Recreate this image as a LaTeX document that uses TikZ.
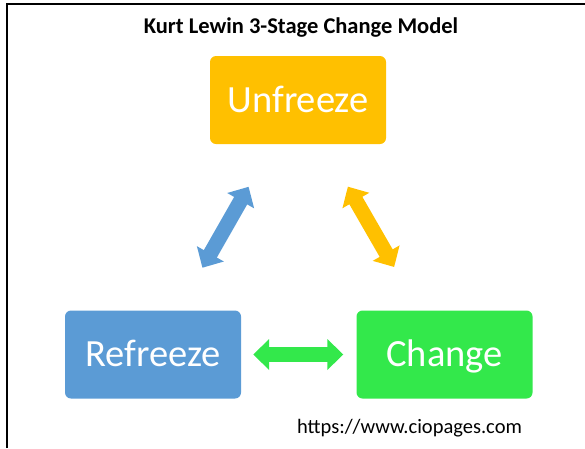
\documentclass[tikz,border=0pt]{standalone}
\usepackage{fontspec}
\setmainfont{Carlito}
\usetikzlibrary{arrows.meta,calc}
\definecolor{unfreezeyellow}{HTML}{FFC000}
\definecolor{refreezeblue}{HTML}{5B9BD5}
\definecolor{changegreen}{HTML}{33E84B}

\begin{document}
\begin{tikzpicture}[x=1pt,y=-1pt,
  stage/.style={rounded corners=6pt, minimum width=176pt, minimum height=88pt,
    inner sep=0pt, text height=30pt, text depth=6pt, text=white,
    font=\fontsize{38.5}{44}\selectfont},
  twoway/.style={line width=15pt,
    {Triangle[length=16pt,width=30pt]}-{Triangle[length=16pt,width=30pt]}}]
\useasboundingbox (0,0) rectangle (585,448);
% frame
\draw[line width=2.5pt] (7,448) -- (7,4) -- (585,4);
\node[font=\bfseries\fontsize{22.5}{26}\selectfont, anchor=base] (title) at (301,33) {Kurt Lewin 3-Stage Change Model};
% the three stages
\node[stage, fill=unfreezeyellow] (unfreeze) at (298,100) {Unfreeze};
\node[stage, fill=refreezeblue] (refreeze) at (153,354.5) {Refreeze};
\node[stage, fill=changegreen] (change) at (444.5,354.5) {Change};
% arrows between them
\draw[twoway, refreezeblue, shorten <=49pt, shorten >=49pt] (refreeze) -- (unfreeze);
\draw[twoway, unfreezeyellow, shorten <=49pt, shorten >=50pt] (unfreeze) -- (change);
\draw[twoway, changegreen, shorten <=12pt, shorten >=13pt] (refreeze) -- (change);
\node[font=\fontsize{20.5}{24}\selectfont, anchor=base] (url) at (409.5,433) {https://www.ciopages.com};
\end{tikzpicture}
\end{document}
